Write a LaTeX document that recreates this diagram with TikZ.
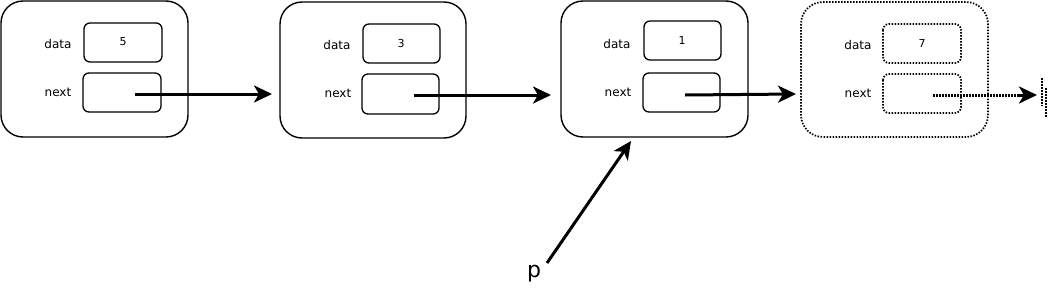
\documentclass[tikz,border=0pt]{standalone}
\usepackage{fontspec}
\setmainfont{DejaVu Sans}
\usetikzlibrary{arrows.meta}
\begin{document}
\begin{tikzpicture}[x=1pt,y=-1pt,
  outer/.style={draw,line width=1.4pt,rounded corners=22pt},
  cell/.style={draw,line width=1.3pt,rounded corners=6pt},
  lbl/.style={font=\fontsize{12}{14}\selectfont,inner sep=0pt},
  val/.style={font=\fontsize{11}{13}\selectfont,inner sep=0pt},
  link/.style={line width=3pt,-{Stealth[length=18pt,width=17pt,inset=5pt]}},
  dots/.style={dash pattern=on 1.5pt off 1.5pt}]
\useasboundingbox (0,0) rectangle (1049,287);
% node 1
\draw[outer] (1,1) rectangle (188,137);
\draw[cell] (84,23) rectangle (162,62);
\node[val] (v1) at (123,42) {5};
\draw[cell] (83,73) rectangle (161,112);
\coordinate (p1) at (135,94);
\node[lbl] (d1) at (58,44) {data};
\node[lbl] (x1) at (58,92) {next};
% node 2
\draw[outer] (280,2) rectangle (466,138);
\draw[cell] (363,24) rectangle (440,63);
\node[val] (v2) at (401,43) {3};
\draw[cell] (362,74) rectangle (439,114);
\coordinate (p2) at (414,95);
\coordinate (t2) at (272,94);
\node[lbl] (d2) at (337,45) {data};
\node[lbl] (x2) at (338,93) {next};
% node 3
\draw[outer] (561,1) rectangle (748,137);
\draw[cell] (644,21) rectangle (721,60);
\node[val] (v3) at (682,40) {1};
\draw[cell] (643,73) rectangle (720,112);
\coordinate (p3) at (685,95);
\coordinate (t3) at (551,95);
\node[lbl] (d3) at (617,44) {data};
\node[lbl] (x3) at (618,92) {next};
% node 4 (dotted)
\draw[outer,line width=1.7pt,dots] (801,2) rectangle (988,137);
\draw[cell,line width=1.7pt,dots] (883,24) rectangle (961,63);
\node[val] (v4) at (922,43) {7};
\draw[cell,line width=1.7pt,dots] (883,74) rectangle (961,113);
\coordinate (p4) at (933,95);
\coordinate (t4) at (796,94);
\node[lbl] (d4) at (858,45) {data};
\node[lbl] (x4) at (858,93) {next};
% terminator
\coordinate (t5) at (1037,95);
\coordinate (t5a) at (1019,95);
\draw[line width=1.5pt,dots] (1042,78) coordinate (g1) -- (1042,106) coordinate (g2);
\draw[line width=1.5pt,dots] (1046,88) coordinate (g3) -- (1046,118) coordinate (g4);
% links
\draw[link] (p1) -- (t2);
\draw[link] (p2) -- (t3);
\draw[link] (p3) -- (t4);
\draw[dots,line width=3pt] (p4) -- (t5a);
\draw[link] (t5a) -- (t5);
% pointer p
\node[font=\fontsize{22}{26}\selectfont,inner sep=0pt] (p) at (534,274) {p};
\coordinate (ps) at (547,263);
\coordinate (pt) at (631,141);
\draw[link] (ps) -- (pt);
\end{tikzpicture}
\end{document}
